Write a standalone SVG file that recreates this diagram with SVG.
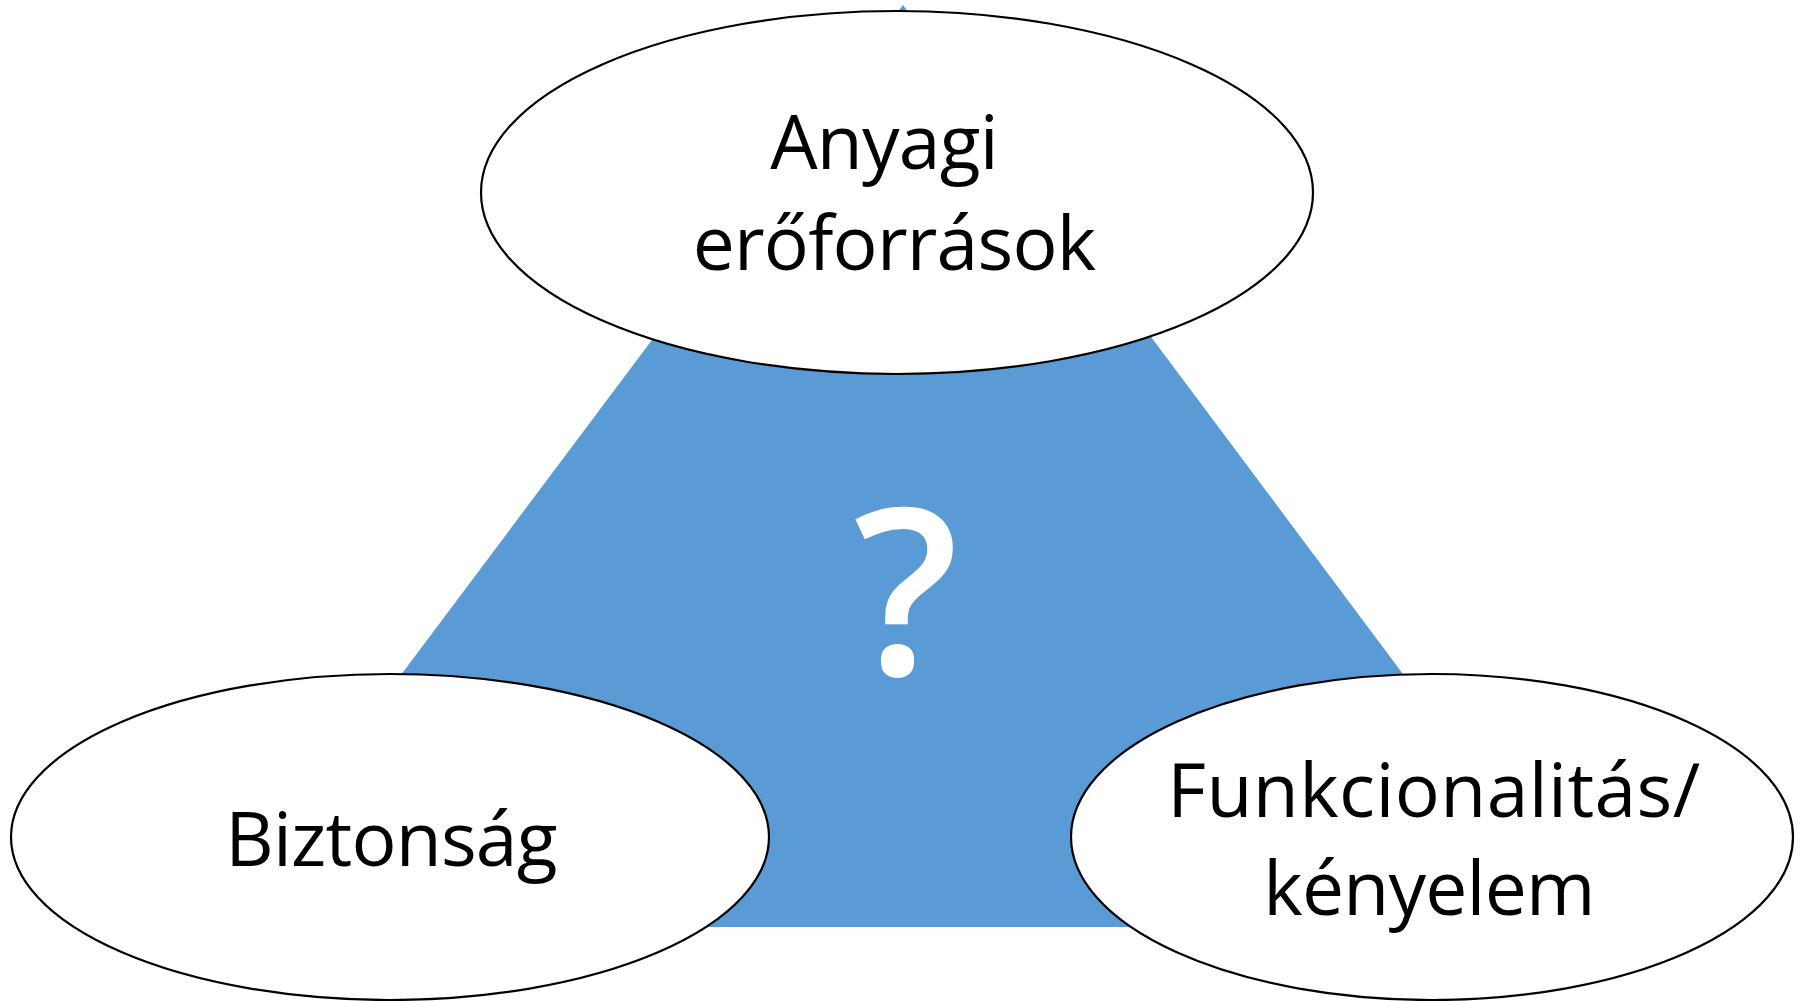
<svg xmlns="http://www.w3.org/2000/svg" width="1805" height="1001" viewBox="0 0 1805 1001">
<style>
.node{fill:#FFFFFF;stroke:#000000;stroke-width:2.2}
.lbl{font-family:"Open Sans","Liberation Sans",sans-serif;font-size:75px;letter-spacing:-0.8px;fill:#000000;text-anchor:middle}
.q{font-family:"Open Sans","Liberation Sans",sans-serif;font-size:232px;font-weight:600;fill:#FFFFFF;text-anchor:middle}
</style>
<rect width="1805" height="1001" fill="#FFFFFF"/>
<g id="connectors">
<polygon id="triangle" points="903,5 1592,927 212,927" fill="#5B9BD5"/>
<text class="q" x="906" y="675">?</text>
</g>
<g id="node-anyagi">
<ellipse class="node" cx="897" cy="192.5" rx="416" ry="181.5"/>
<text class="lbl" x="884" y="169">Anyagi</text>
<text class="lbl" x="894" y="270">erőforrások</text>
</g>
<g id="node-biztonsag">
<ellipse class="node" cx="390" cy="837" rx="379" ry="163"/>
<text class="lbl" x="391" y="866">Biztonság</text>
</g>
<g id="node-funkcionalitas">
<ellipse class="node" cx="1432" cy="837" rx="361" ry="163"/>
<text class="lbl" x="1434" y="817" style="letter-spacing:0.4px">Funkcionalitás/</text>
<text class="lbl" x="1429" y="915">kényelem</text>
</g>
</svg>
